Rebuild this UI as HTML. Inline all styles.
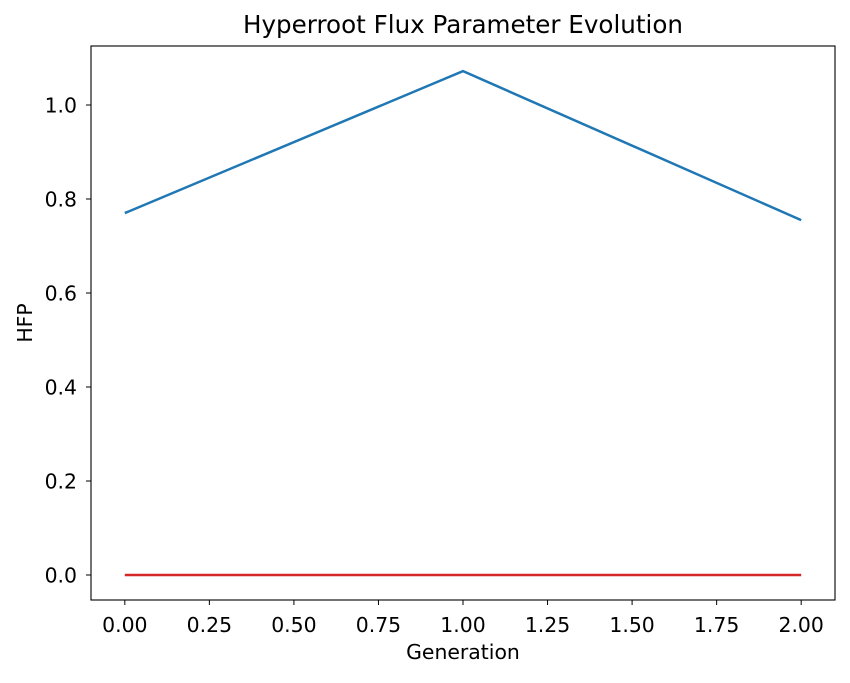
<!DOCTYPE html>
<html><head><meta charset="utf-8"><style>
body{margin:0;background:#fff;}
svg text{font-family:"DejaVu Sans","Liberation Sans",sans-serif;fill:#000;}
</style></head><body>
<svg id="chart" width="850" height="678" xmlns="http://www.w3.org/2000/svg">
<rect width="850" height="678" fill="#fff"/>
<text x="463" y="33" font-size="24.6" text-anchor="middle">Hyperroot Flux Parameter Evolution</text>
<g id="plot"></g>
<rect x="91" y="46" width="744" height="554" fill="none" stroke="#000" stroke-width="1.1"/>
<text x="463" y="659" font-size="20.4" text-anchor="middle">Generation</text>
<text x="0" y="0" font-size="20.4" text-anchor="middle" transform="translate(32,323) rotate(-90)">HFP</text>
</svg>
<script>
const generations=[0,1,2];
const seriesBlue=[0.770,1.072,0.755];
const seriesRed=[0,0,0];
const xTicks=[0,0.25,0.5,0.75,1,1.25,1.5,1.75,2];
const xTickLabels=["0.00","0.25","0.50","0.75","1.00","1.25","1.50","1.75","2.00"];
const yTicks=[0,0.2,0.4,0.6,0.8,1.0];
const yTickLabels=["0.0","0.2","0.4","0.6","0.8","1.0"];
const NS="http://www.w3.org/2000/svg";
const xMin=-0.1,xMax=2.1,yMin=-0.0532,yMax=1.1255;
const L=91,R=835,T=46,B=600;
function sx(v){return L+(v-xMin)/(xMax-xMin)*(R-L);}
function sy(v){return B-(v-yMin)/(yMax-yMin)*(B-T);}
const g=document.getElementById('plot');
function mk(tag,attrs){const e=document.createElementNS(NS,tag);for(const k in attrs)e.setAttribute(k,attrs[k]);g.appendChild(e);return e;}
xTicks.forEach((t,i)=>{
 const l=mk('line',{x1:sx(t),x2:sx(t),y1:B,y2:B+5,stroke:'#000'});
 
 
 const tx=mk('text',{x:sx(t),y:B+32,'font-size':20.4,'text-anchor':'middle'});
 tx.textContent=xTickLabels[i];
 
 
});
yTicks.forEach((t,i)=>{
 const l=mk('line',{x1:L-5,x2:L,y1:sy(t),y2:sy(t),stroke:'#000'});
 
 
 const tx=mk('text',{x:L-14,y:sy(t)+7.5,'font-size':20.4,'text-anchor':'end'});
 tx.textContent=yTickLabels[i];
 
 
});
function line(vals,color,name){
 const p=mk('polyline',{points:generations.map((x,i)=>sx(x)+','+sy(vals[i])).join(' '),fill:'none',stroke:color,'stroke-width':2.5});
 
 
}
line(seriesBlue,'#1f77b4','series-blue-line');
line(seriesRed,'#d62728','series-red-line');
</script>
</body></html>
